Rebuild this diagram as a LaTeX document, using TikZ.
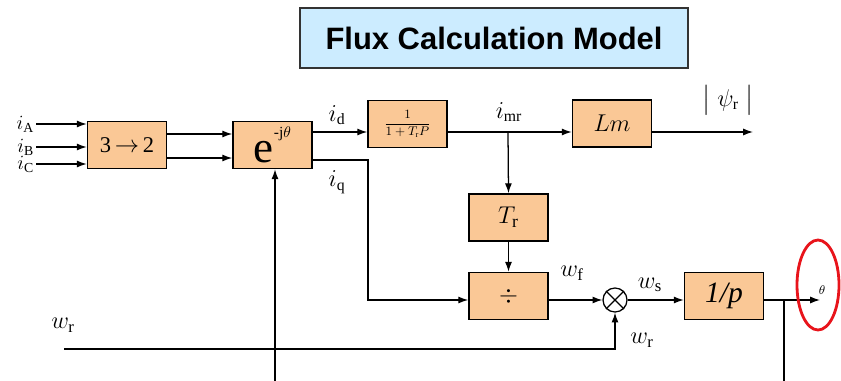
\documentclass[tikz,border=0pt]{standalone}
\usepackage{fontspec}
\setmainfont{Liberation Serif}
\newfontfamily\titolofont{Liberation Sans}
\usepackage{amsmath}
\usetikzlibrary{arrows.meta}
\definecolor{pesca}{HTML}{FAC896}
\definecolor{celeste}{HTML}{CCECFF}
\definecolor{rosso}{HTML}{E8141B}
\tikzset{
    blocco/.style={draw=black, fill=pesca, line width=1pt, inner sep=1pt,
        minimum width=1.98cm, minimum height=1.18cm, align=center},
    etich/.style={inner sep=1pt, font=\fontsize{16}{18}\selectfont}
}

\begin{document}
\begin{tikzpicture}[x=0.025cm, y=-0.025cm, line width=0.9pt,
        >={Latex[length=7pt,width=5pt]}, font=\fontsize{13}{15}\selectfont]
        \useasboundingbox (0,0) rectangle (841,381);
        % Titolo
        \node[draw=black!80, fill=celeste, line width=1pt, minimum width=9.7cm, minimum height=1.5cm,
            font=\titolofont\bfseries\fontsize{22}{26}\selectfont] (titolo) at (494,38) {Flux Calculation Model};
        % Blocchi
        \node[blocco, font=\fontsize{16}{18}\selectfont] (conv) at (127,145) {3\,$\rightarrow$\,2};
        \node[blocco] (rot) at (272.5,145)
            {\fontsize{32}{34}\selectfont e\raisebox{18pt}{\fontsize{11}{12}\selectfont -j$\theta$}};
        \node[blocco, font=\fontsize{9}{10}\selectfont] (rit) at (407.5,124) {$\dfrac{1}{1+T_{\mathrm r}P}$};
        \node[blocco, font=\fontsize{18}{20}\selectfont] (lm) at (612,123.5) {$Lm$};
        \node[blocco, font=\fontsize{18}{20}\selectfont] (tr) at (508.5,217.5) {$T_{\mathrm r}$};
        \node[blocco, font=\fontsize{17}{18}\selectfont] (div) at (508.5,296) {$\div$};
        \node[blocco, font=\fontsize{21}{23}\selectfont] (integ) at (724,296) {\textit{1/p}};
        \node[draw, circle, fill=white, inner sep=0pt, minimum size=0.6cm] (som) at (615,300) {};
        \draw (som.north east) -- (som.south west) (som.north west) -- (som.south east);
        % Punti di appoggio
        \coordinate (nodo) at (508,132);
        \coordinate (psi) at (753,132);
        \coordinate (gomito) at (368,300);
        \coordinate (teta) at (820,300);
        \coordinate (ramo) at (784,300);
        \coordinate (ramofine) at (784,381);
        \coordinate (retro) at (275,381);
        \coordinate (wr) at (64,349);
        % Ingressi
        \foreach \nome/\y/\lbl in {iA/124/A, iB/147/B, iC/164/C}
            {
                \coordinate (\nome) at (36,\y);
                \node[etich, anchor=east, font=\fontsize{14}{15}\selectfont] (l\nome) at (\nome) {$i_{\mathrm{\lbl}}$};
                \draw[->] (\nome) -- (\nome -| conv.west);
            }
        % Frecce
        \draw[->] ([yshift=0.275cm]conv.east) -- ([yshift=0.275cm]rot.west);
        \draw[->] ([yshift=-0.325cm]conv.east) -- ([yshift=-0.325cm]rot.west);
        \draw[->] (rot.east |- nodo) -- (rit.west |- nodo);
        \draw[->] (rit.east |- nodo) -- (lm.west |- nodo);
        \draw[->] (nodo) -- (tr.north);
        \draw[->] (lm.east |- nodo) -- (psi);
        \draw[->] ([yshift=-0.375cm]rot.east) -| (gomito) -- (div.west |- som);
        \draw[->] (tr.south) -- (div.north);
        \draw[->] (div.east |- som) -- (som.west);
        \draw[->] (som.east) -- (integ.west |- som);
        \draw[->] (integ.east |- som) -- (teta);
        \draw (ramo) -- (ramofine);
        \draw[->] (retro) -- (retro |- rot.south);
        \draw[->] (wr) -| (som.south);
        % Etichette
        \node[etich] (lid) at (337,115) {$i_{\mathrm d}$};
        \node[etich] (liq) at (337,182) {$i_{\mathrm q}$};
        \node[etich] (limr) at (509,112) {$i_{\mathrm{mr}}$};
        \node[etich] (lpsi) at (728,100) {$\big|\;\psi_{\mathrm r}\;\big|$};
        \node[etich, font=\fontsize{17}{18}\selectfont] (lwf) at (572,273) {$w_{\mathrm f}$};
        \node[etich, font=\fontsize{17}{18}\selectfont] (lws) at (650,285) {$w_{\mathrm s}$};
        \node[etich, font=\fontsize{17}{18}\selectfont] (lwr) at (642,340) {$w_{\mathrm r}$};
        \node[etich, font=\fontsize{17}{18}\selectfont] (lwrin) at (63,325) {$w_{\mathrm r}$};
        \node[inner sep=0pt, font=\fontsize{9}{10}\selectfont] (lteta) at (822,290) {$\theta$};
        % Evidenziazione
        \draw[rosso, line width=2pt] (818,285) ellipse [x radius=0.525cm, y radius=1.125cm];
    \end{tikzpicture}
\end{document}
